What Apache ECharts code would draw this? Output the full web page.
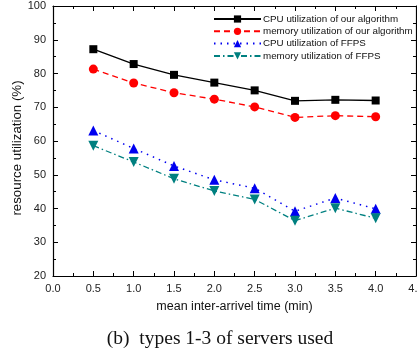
<!DOCTYPE html>
<html><head><meta charset="utf-8">
<script src="https://cdn.jsdelivr.net/npm/echarts@6/dist/echarts.min.js"></script>
<style>html,body{margin:0;padding:0;background:#fff}#c{width:417px;height:356px}</style>
</head><body><div id="c"></div>
<script>
const xValues = [0.5, 1.0, 1.5, 2.0, 2.5, 3.0, 3.5, 4.0];
const cpuOurs = [87.2, 82.8, 79.6, 77.3, 75.0, 71.9, 72.2, 72.0];
const memOurs = [81.3, 77.2, 74.3, 72.4, 70.1, 67.0, 67.5, 67.2];
const cpuFFPS = [63.1, 57.8, 52.6, 48.5, 46.0, 39.2, 43.1, 39.9];
const memFFPS = [58.6, 53.8, 48.8, 45.2, 42.7, 36.4, 40.1, 37.1];
const seriesNames = ['CPU utilization of our algorithm','memory utilization of our algorithm','CPU utilization of FFPS','memory utilization of FFPS'];

const font = 'Liberation Sans, Arial, sans-serif';
const pair = arr => xValues.map((x,i)=>[x,arr[i]]);
const chart = echarts.init(document.getElementById('c'), null, {renderer:'canvas'});
const axisCommon = {
  axisLine:{show:true,onZero:false,lineStyle:{color:'#000',width:1.2}},
  axisTick:{show:true,inside:true,length:5,lineStyle:{color:'#000',width:1}},
  minorTick:{show:true,splitNumber:2,length:3,lineStyle:{color:'#000',width:1}},
  splitLine:{show:false}
};
chart.setOption({
  animation:false,
  grid:{left:53,right:1,top:6,bottom:80,containLabel:false,outerBoundsMode:'none'},
  xAxis:[
    Object.assign({type:'value',min:0,max:4.5,interval:0.5,position:'bottom',
      name:'mean inter-arrivel time (min)',nameLocation:'middle',nameGap:24,nameMoveOverlap:false,
      nameTextStyle:{fontFamily:font,fontSize:12.5,color:'#111'},
      axisLabel:{fontFamily:font,fontSize:11,color:'#222',margin:7,formatter:v=>v.toFixed(1)}},axisCommon),
    Object.assign({type:'value',min:0,max:4.5,interval:0.5,position:'top',axisLabel:{show:false}},axisCommon)
  ],
  yAxis:[
    Object.assign({type:'value',min:20,max:100,interval:10,position:'left',
      name:'resource utilization (%)',nameLocation:'middle',nameGap:29,nameRotate:90,nameMoveOverlap:false,
      nameTextStyle:{fontFamily:font,fontSize:13.3,color:'#111',padding:[0,14,0,0]},
      axisLabel:{fontFamily:font,fontSize:11,color:'#222',margin:7}},axisCommon),
    Object.assign({type:'value',min:20,max:100,interval:10,position:'right',axisLabel:{show:false}},axisCommon)
  ],
  legend:{
    orient:'vertical',left:213,top:13,itemWidth:47,itemHeight:9,itemGap:0.3,padding:0,
    textStyle:{fontFamily:font,fontSize:9.8,lineHeight:12,color:'#111',padding:[0,0,0,-3]},
    data:seriesNames
  },
  series:[
    {name:seriesNames[0],type:'line',data:pair(cpuOurs),symbol:'rect',symbolSize:8,
     itemStyle:{color:'#000'},lineStyle:{color:'#000',width:1.3,type:'solid'}},
    {name:seriesNames[1],type:'line',data:pair(memOurs),symbol:'circle',symbolSize:9,
     itemStyle:{color:'#f00'},lineStyle:{color:'#f00',width:1.3,type:[6,4]}},
    {name:seriesNames[2],type:'line',data:pair(cpuFFPS),symbol:'triangle',symbolSize:10,
     itemStyle:{color:'#0000f0'},lineStyle:{color:'#0000f0',width:1.5,type:[1.5,5]}},
    {name:seriesNames[3],type:'line',data:pair(memFFPS),symbol:'triangle',symbolRotate:180,symbolSize:10,
     itemStyle:{color:'#008080'},lineStyle:{color:'#008080',width:1.3,type:[6,3,1.5,3]}}
  ],
  graphic:[{type:'text',x:220,y:339,style:{text:'(b)  types 1-3 of servers used',
    align:'center',verticalAlign:'middle',
    fontFamily:'Liberation Serif, Times New Roman, serif',fontSize:19.5,fill:'#111'}}]
});
</script></body></html>
